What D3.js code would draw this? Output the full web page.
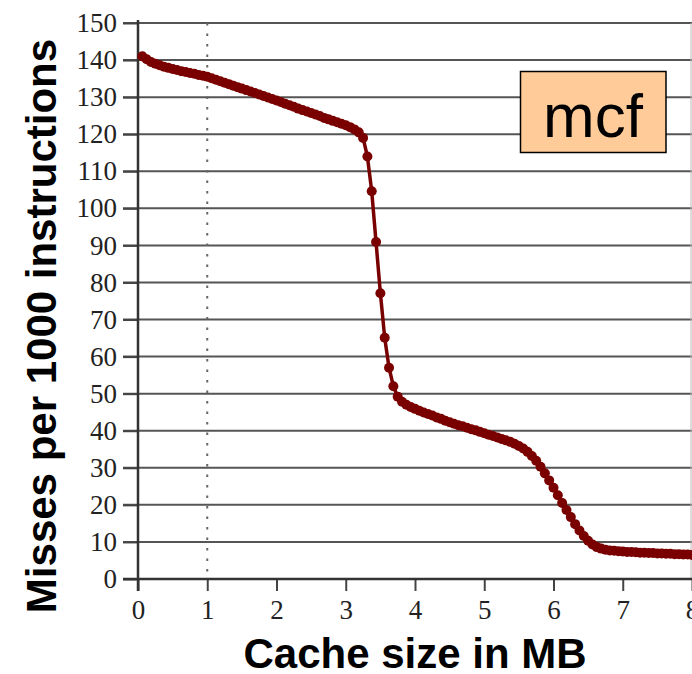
<!DOCTYPE html>
<html>
<head>
<meta charset="utf-8">
<script src="https://cdn.jsdelivr.net/npm/d3@7"></script>
<style>
body {margin:0; background:#fff;}
svg {display:block;}
</style>
</head>
<body>
<div id="chart"></div>
<script>
// cache sizes sampled (KB) and misses per 1000 instructions for mcf
var cacheKB = [
  64,128,192,256,320,384,448,512,576,640,704,768,832,896,960,1024,
  1088,1152,1216,1280,1344,1408,1472,1536,1600,1664,1728,1792,1856,1920,1984,2048,
  2112,2176,2240,2304,2368,2432,2496,2560,2624,2688,2752,2816,2880,2944,3008,3072,
  3136,3200,3264,3328,3392,3456,3520,3584,3648,3712,3776,3840,3904,3968,4032,4096,
  4160,4224,4288,4352,4416,4480,4544,4608,4672,4736,4800,4864,4928,4992,5056,5120,
  5184,5248,5312,5376,5440,5504,5568,5632,5696,5760,5824,5888,5952,6016,6080,6144,
  6208,6272,6336,6400,6464,6528,6592,6656,6720,6784,6848,6912,6976,7040,7104,7168,
  7232,7296,7360,7424,7488,7552,7616,7680,7744,7808,7872,7936,8000,8064,8128,8192];

var missesPerK = [
  141.0,140.2,139.5,139.0,138.6,138.2,137.9,137.6,137.3,137.0,136.8,136.5,136.3,136.0,135.8,135.5,
  135.1,134.7,134.3,133.9,133.5,133.1,132.7,132.3,131.9,131.5,131.1,130.7,130.3,129.9,129.5,129.1,
  128.7,128.2,127.8,127.4,126.9,126.5,126.1,125.7,125.3,124.9,124.4,124.0,123.6,123.2,122.8,122.4,
  121.9,121.3,120.5,119.0,114.0,104.6,90.9,77.1,65.1,57.0,52.0,49.2,47.8,47.0,46.4,45.9,
  45.4,44.9,44.5,44.1,43.6,43.2,42.7,42.3,41.9,41.5,41.2,40.8,40.4,40.1,39.7,39.3,
  38.9,38.6,38.2,37.8,37.4,37.0,36.5,35.9,35.2,34.3,33.2,31.9,30.3,28.5,26.6,24.6,
  22.6,20.5,18.6,16.7,14.8,13.1,11.6,10.3,9.3,8.6,8.2,7.9,7.7,7.6,7.5,7.4,
  7.3,7.3,7.2,7.1,7.1,7.0,7.0,6.9,6.9,6.8,6.8,6.7,6.7,6.6,6.6,6.5];

var yTicks = [0,10,20,30,40,50,60,70,80,90,100,110,120,130,140,150];
var xTicks = [0,1,2,3,4,5,6,7,8];
var markerLine = 1; // dotted reference line at 1 MB
var benchmark = "mcf";
var xTitle = "Cache size in MB";
var yTitle = "Misses per 1000 instructions";

// dimension and margin of graph
var margin = {top:23, right:0, bottom:95, left:138},
width = 692 - margin.left - margin.right,
height = 674 - margin.top - margin.bottom;

var data = cacheKB.map(function(kb, i) {return {mb: kb / 1024, v: missesPerK[i]};});

var svg = d3.select("#chart").append("svg")
    .attr("width", 692)
    .attr("height", 674)
    .append("g")
    .attr("transform", "translate(" + margin.left + "," + margin.top + ")");

var x = d3.scaleLinear().domain([0, 8]).range([0, width]);
var y = d3.scaleLinear().domain([0, 150]).range([height, 0]);

// horizontal grid lines (extending left through the tick marks)
svg.append("g").selectAll("line")
.data(yTicks)
.enter().append("line")
    .attr("x1", -15)
    .attr("x2", width)
    .attr("y1", function(d) {return y(d);})
    .attr("y2", function(d) {return y(d);})
    .attr("stroke", "#555")
    .attr("stroke-width", 2);

// right border
svg.append("line")
    .attr("x1", width - 1).attr("x2", width - 1)
    .attr("y1", 0).attr("y2", height)
    .attr("stroke", "#bbb").attr("stroke-width", 1);

// dotted line at 1 MB
svg.append("line")
    .attr("x1", x(markerLine)).attr("x2", x(markerLine))
    .attr("y1", 0).attr("y2", height)
    .attr("stroke", "#666")
    .attr("stroke-width", 2)
    .attr("stroke-dasharray", "2.5,8");

// y axis labels
var yAxis = svg.append("g")
    .call(d3.axisLeft(y).tickValues(yTicks).tickSize(15).tickSizeOuter(0).tickPadding(6));
yAxis.select(".domain").remove();
yAxis.selectAll("line").attr("stroke", "#444").attr("stroke-width", 2);
yAxis.selectAll("text")
    .style("font-family", "'Liberation Serif', 'Times New Roman', serif")
    .style("font-size", "27px")
    .attr("fill", "#222");

// x axis
var xAxis = svg.append("g")
    .attr("transform", "translate(0," + height + ")")
    .call(d3.axisBottom(x).tickValues(xTicks).tickSize(12).tickSizeOuter(0).tickPadding(9));
xAxis.select(".domain").remove();
xAxis.selectAll("line").attr("stroke", "#444").attr("stroke-width", 2);
xAxis.selectAll("text")
    .style("font-family", "'Liberation Serif', 'Times New Roman', serif")
    .style("font-size", "27px")
    .attr("fill", "#222");

// axis lines
svg.append("line")
    .attr("x1", 0).attr("x2", 0)
    .attr("y1", -3).attr("y2", height + 12)
    .attr("stroke", "#333").attr("stroke-width", 2.5);
svg.append("line")
    .attr("x1", -15).attr("x2", width)
    .attr("y1", height).attr("y2", height)
    .attr("stroke", "#333").attr("stroke-width", 2.5);

// the miss curve
var line = d3.line()
    .x(function(d) {return x(d.mb);})
    .y(function(d) {return y(d.v);});

svg.append("path")
    .datum(data)
    .attr("fill", "none")
    .attr("stroke", "#780000")
    .attr("stroke-width", 3.5)
    .attr("stroke-linejoin", "round")
    .attr("d", line);

svg.append("g").selectAll("circle")
.data(data)
.enter().append("circle")
    .attr("cx", function(d) {return x(d.mb);})
    .attr("cy", function(d) {return y(d.v);})
    .attr("r", 5)
    .attr("fill", "#7a0000");

// benchmark tag
svg.append("rect")
    .attr("x", 520.5 - margin.left)
    .attr("y", 71.5 - margin.top)
    .attr("width", 145.5)
    .attr("height", 81)
    .attr("fill", "#ffcc99")
    .attr("stroke", "#000")
    .attr("stroke-width", 1.5);
svg.append("text")
    .attr("x", 593 - margin.left)
    .attr("y", 136.5 - margin.top)
    .attr("text-anchor", "middle")
    .style("font-family", "'Liberation Sans', Arial, sans-serif")
    .style("font-size", "62px")
    .text(benchmark);

// axis titles
d3.select("svg").append("text")
    .attr("x", 415)
    .attr("y", 668)
    .attr("text-anchor", "middle")
    .style("font-family", "'Liberation Sans', Arial, sans-serif")
    .style("font-weight", "bold")
    .style("font-size", "42px")
    .text(xTitle);

d3.select("svg").append("text")
    .attr("transform", "translate(56,326) rotate(-90)")
    .attr("text-anchor", "middle")
    .style("font-family", "'Liberation Sans', Arial, sans-serif")
    .style("font-weight", "bold")
    .style("font-size", "42px")
    .text(yTitle);
</script>
</body>
</html>
